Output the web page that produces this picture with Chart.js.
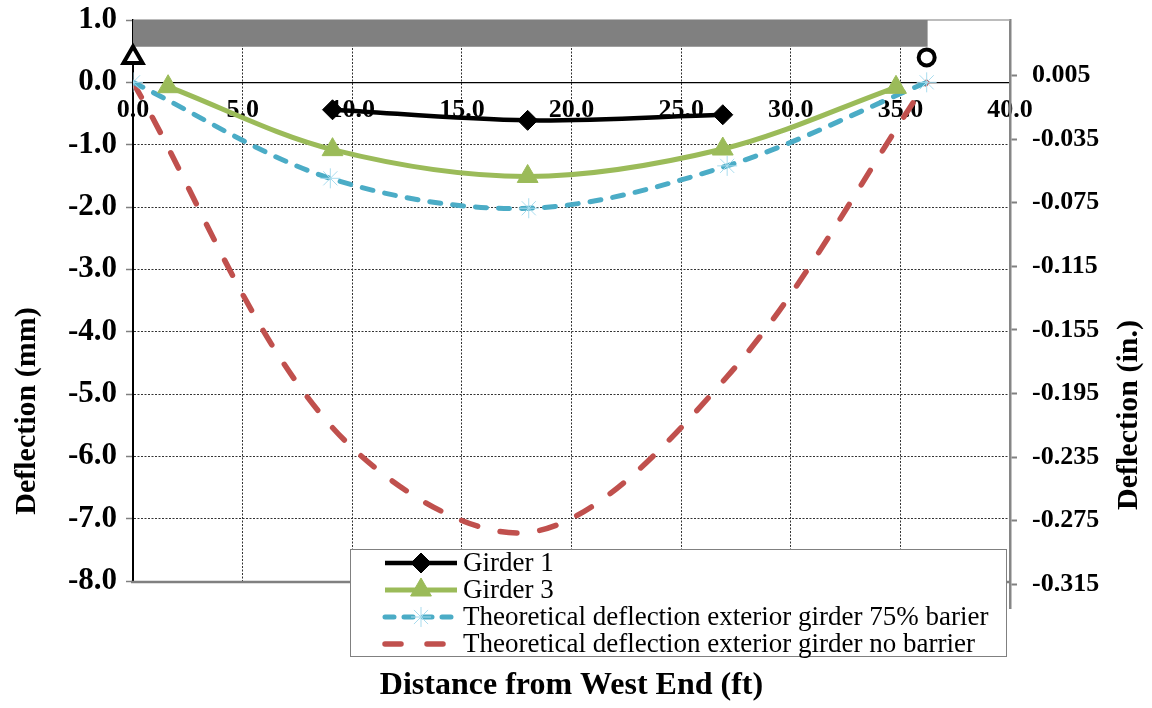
<!DOCTYPE html>
<html>
<head>
<meta charset="utf-8">
<title>Deflection along span</title>
<script src="https://cdn.jsdelivr.net/npm/chart.js@4.4.1/dist/chart.umd.min.js"></script>
<style>
  html, body { margin: 0; padding: 0; background: #ffffff; }
  #wrap { width: 1152px; height: 708px; }
  canvas { display: block; }
</style>
</head>
<body>
<div id="wrap"><canvas id="chart" width="1152" height="708"></canvas></div>
<script>
// ---- axis ticks ----
const xTicks = [0, 5, 10, 15, 20, 25, 30, 35, 40];
const mmTicks = [1, 0, -1, -2, -3, -4, -5, -6, -7, -8];
const inTicks = [0.005, -0.035, -0.075, -0.115, -0.155, -0.195, -0.235, -0.275, -0.315];

// ---- measured deflections (mm) vs distance from west end (ft) ----
const girder1X = [9.1, 18.0, 26.9];
const girder1Y = [-0.44, -0.61, -0.52];
const girder3X = [1.6, 9.1, 18.0, 26.9, 34.8];
const girder3Y = [-0.07, -1.08, -1.51, -1.07, -0.08];

// ---- theoretical exterior girder deflections (mm) ----
const theoryX = [0, 9.0, 18.05, 27.1, 36.2];
const theory75Y = [0, -1.54, -2.02, -1.34, 0];
const theoryNoBarrierY = [0, -5.5, -7.22, -4.72, 0];

// ---- supports and deck strip ----
const supportX = [0, 36.2];
const supportY = [0.4, 0.4];
const deckX = [0, 36.25];
const deckTopY = [1.0, 1.0];
const deckBottomY = 0.57;

const seriesLabels = [
  'Girder 1',
  'Girder 3',
  'Theoretical deflection exterior girder 75% barier',
  'Theoretical deflection exterior girder no barrier'
];

const pts = (xs, ys) => xs.map((x, i) => ({ x: x, y: ys[i] }));
const asTicks = arr => arr.map(v => ({ value: v }));

const SERIF = "'Liberation Serif', 'Times New Roman', serif";
Chart.defaults.font.family = SERIF;
Chart.defaults.color = '#000000';

const mmFont = { family: SERIF, size: 31, weight: 'bold' };
const tickFont = { family: SERIF, size: 26, weight: 'bold' };

// Frame lines along the top and bottom of the plot area
const plotFrame = {
  id: 'plotFrame',
  beforeDatasetsDraw(chart) {
    const { ctx, chartArea: a } = chart;
    ctx.save();
    ctx.strokeStyle = '#a6a6a6';
    ctx.lineWidth = 1.5;
    ctx.beginPath();
    ctx.moveTo(a.left, a.top);
    ctx.lineTo(a.right, a.top);
    ctx.stroke();
    ctx.strokeStyle = '#808080';
    ctx.lineWidth = 2.5;
    ctx.beginPath();
    ctx.moveTo(a.left - 2, a.bottom + 1);
    ctx.lineTo(a.right, a.bottom + 1);
    ctx.stroke();
    ctx.restore();
  }
};

// The inch axis runs a little past the bottom of the plot area
const inchAxisSpan = {
  id: 'inchAxisSpan',
  afterLayout(chart) {
    const s = chart.scales.y2;
    s.bottom = chart.chartArea.bottom + 27;
    s.height = s.bottom - s.top;
    s.configure();
  }
};

// Boxed legend with line + marker samples
const boxedLegend = {
  id: 'boxedLegend',
  afterDatasetsDraw(chart) {
    const { ctx, chartArea: a } = chart;
    const box = { left: a.left + 217, top: a.bottom - 32, right: a.right - 3, bottom: a.bottom + 76 };
    ctx.save();
    ctx.fillStyle = '#ffffff';
    ctx.fillRect(box.left, box.top, box.right - box.left, box.bottom - box.top);
    ctx.strokeStyle = '#808080';
    ctx.lineWidth = 1;
    ctx.strokeRect(box.left + 0.5, box.top + 0.5, box.right - box.left - 1, box.bottom - box.top - 1);

    const items = chart.data.datasets.filter(d => seriesLabels.includes(d.label));
    items.forEach((d, i) => {
      const y = box.top + 14 + i * 27;
      const x1 = box.left + 35, x2 = box.left + 107, xm = (x1 + x2) / 2;
      ctx.save();
      ctx.strokeStyle = d.borderColor;
      ctx.lineWidth = d.borderWidth;
      ctx.lineCap = d.borderCapStyle || 'butt';
      ctx.setLineDash(d.legendDash || d.borderDash || []);
      ctx.beginPath();
      ctx.moveTo(x1, y);
      ctx.lineTo(x2, y);
      ctx.stroke();
      ctx.restore();
      if (d.pointStyle && d.pointRadius > 0) {
        ctx.save();
        ctx.fillStyle = d.pointBackgroundColor;
        ctx.strokeStyle = d.pointBorderColor;
        ctx.lineWidth = d.pointBorderWidth;
        Chart.helpers.drawPoint(ctx, {
          pointStyle: d.pointStyle, rotation: 0,
          radius: d.pointRadius, borderWidth: d.pointBorderWidth
        }, xm, y);
        ctx.restore();
      }
      ctx.fillStyle = '#000000';
      ctx.font = '27px ' + SERIF;
      ctx.textAlign = 'left';
      ctx.textBaseline = 'middle';
      ctx.fillText(d.label, box.left + 113, y + 1);
    });
    ctx.restore();
  }
};

// Axis titles
const axisTitles = {
  id: 'axisTitles',
  afterDraw(chart) {
    const { ctx, chartArea: a } = chart;
    ctx.save();
    ctx.fillStyle = '#000000';
    ctx.textAlign = 'center';
    ctx.textBaseline = 'middle';
    ctx.font = 'bold 32px ' + SERIF;
    ctx.fillText('Distance from West End (ft)', (a.left + a.right) / 2, a.bottom + 105);

    ctx.font = 'bold 30px ' + SERIF;
    ctx.save();
    ctx.translate(27, a.top + 391);
    ctx.rotate(-Math.PI / 2);
    ctx.fillText('Deflection (mm)', 0, 0);
    ctx.restore();

    ctx.save();
    ctx.translate(a.right + 119, a.top + 395);
    ctx.rotate(-Math.PI / 2);
    ctx.fillText('Deflection (in.)', 0, 0);
    ctx.restore();
    ctx.restore();
  }
};

const hideEdge = (edges, color) => ctx =>
  (ctx.tick && edges.includes(ctx.tick.value)) ? 'rgba(0,0,0,0)' : color;

// keep the vertical scales from pushing the plot area down for their end labels
const pinVertical = width => s => {
  s.width = width;
  s.paddingTop = 0;
  s.paddingBottom = 0;
};

new Chart(document.getElementById('chart'), {
  type: 'line',
  data: {
    datasets: [
      {
        label: seriesLabels[0],
        data: pts(girder1X, girder1Y),
        borderColor: '#000000',
        borderWidth: 4.5,
        tension: 0.33,
        pointStyle: 'rectRot',
        pointRadius: 10,
        pointBackgroundColor: '#000000',
        pointBorderColor: '#000000',
        pointBorderWidth: 1,
        yAxisID: 'y'
      },
      {
        label: seriesLabels[1],
        data: pts(girder3X, girder3Y),
        borderColor: '#9bbb59',
        borderWidth: 5,
        tension: 0.33,
        pointStyle: 'triangle',
        pointRadius: 12,
        pointBackgroundColor: '#9bbb59',
        pointBorderColor: '#9bbb59',
        pointBorderWidth: 1,
        yAxisID: 'y'
      },
      {
        label: seriesLabels[2],
        data: pts(theoryX, theory75Y),
        borderColor: '#4bacc6',
        borderWidth: 5,
        borderDash: [11, 12],
        borderCapStyle: 'round',
        legendDash: [9, 10],
        tension: 0.33,
        pointStyle: 'star',
        pointRadius: 10,
        pointBackgroundColor: '#4bacc6',
        pointBorderColor: '#a9dcee',
        pointBorderWidth: 1,
        yAxisID: 'y'
      },
      {
        label: seriesLabels[3],
        data: pts(theoryX, theoryNoBarrierY),
        borderColor: '#c0504d',
        borderWidth: 5.5,
        borderDash: [17, 23],
        borderCapStyle: 'round',
        legendDash: [16, 26],
        tension: 0.33,
        pointRadius: 0,
        yAxisID: 'y'
      },
      {
        label: 'supports',
        data: pts(supportX, supportY),
        showLine: false,
        clip: false,
        pointStyle: ['triangle', 'circle'],
        pointRadius: [11, 8],
        pointBackgroundColor: '#ffffff',
        pointBorderColor: '#000000',
        pointBorderWidth: 4,
        yAxisID: 'y'
      },
      {
        label: 'deck',
        data: pts(deckX, deckTopY),
        borderWidth: 0,
        borderColor: '#808080',
        backgroundColor: '#808080',
        fill: { value: deckBottomY },
        pointRadius: 0,
        tension: 0,
        yAxisID: 'y'
      }
    ]
  },
  options: {
    responsive: false,
    animation: false,
    devicePixelRatio: 1,
    events: [],
    layout: { padding: { left: 0, right: 0, top: 20, bottom: 127 } },
    plugins: {
      legend: { display: false },
      title: { display: false },
      tooltip: { enabled: false }
    },
    scales: {
      x: {
        type: 'linear',
        position: { y: 0 },
        min: 0,
        max: 40,
        afterBuildTicks: s => { s.ticks = asTicks(xTicks); },
        ticks: {
          font: tickFont,
          color: '#000000',
          padding: 12,
          maxRotation: 0,
          autoSkip: false,
          callback: v => Number(v).toFixed(1)
        },
        grid: {
          drawTicks: false,
          color: hideEdge([0, 40], '#333333'),
          lineWidth: 1
        },
        border: { display: true, color: '#000000', width: 1.2, dash: [2, 1.5] }
      },
      y: {
        type: 'linear',
        position: 'left',
        min: -8,
        max: 1,
        afterBuildTicks: s => { s.ticks = asTicks(mmTicks); },
        afterFit: pinVertical(133),
        ticks: {
          font: mmFont,
          color: '#000000',
          padding: 9,
          callback: v => Number(v).toFixed(1)
        },
        grid: {
          drawTicks: true,
          tickLength: 7,
          tickColor: '#808080',
          tickWidth: 1.5,
          color: hideEdge([1, 0, -8], '#333333'),
          lineWidth: 1
        },
        border: { display: true, color: '#000000', width: 2, dash: [2, 1.5] }
      },
      y2: {
        type: 'linear',
        position: 'right',
        min: -0.33,
        max: 0.04,
        afterBuildTicks: s => { s.ticks = asTicks(inTicks); },
        afterFit: pinVertical(142),
        ticks: {
          font: tickFont,
          color: '#000000',
          padding: 15,
          callback: v => Number(v).toFixed(3)
        },
        grid: {
          drawOnChartArea: false,
          drawTicks: true,
          tickLength: 7,
          tickColor: '#808080',
          tickWidth: 2
        },
        border: { display: true, color: '#868686', width: 2.5 }
      }
    }
  },
  plugins: [plotFrame, inchAxisSpan, boxedLegend, axisTitles]
});
</script>
</body>
</html>
